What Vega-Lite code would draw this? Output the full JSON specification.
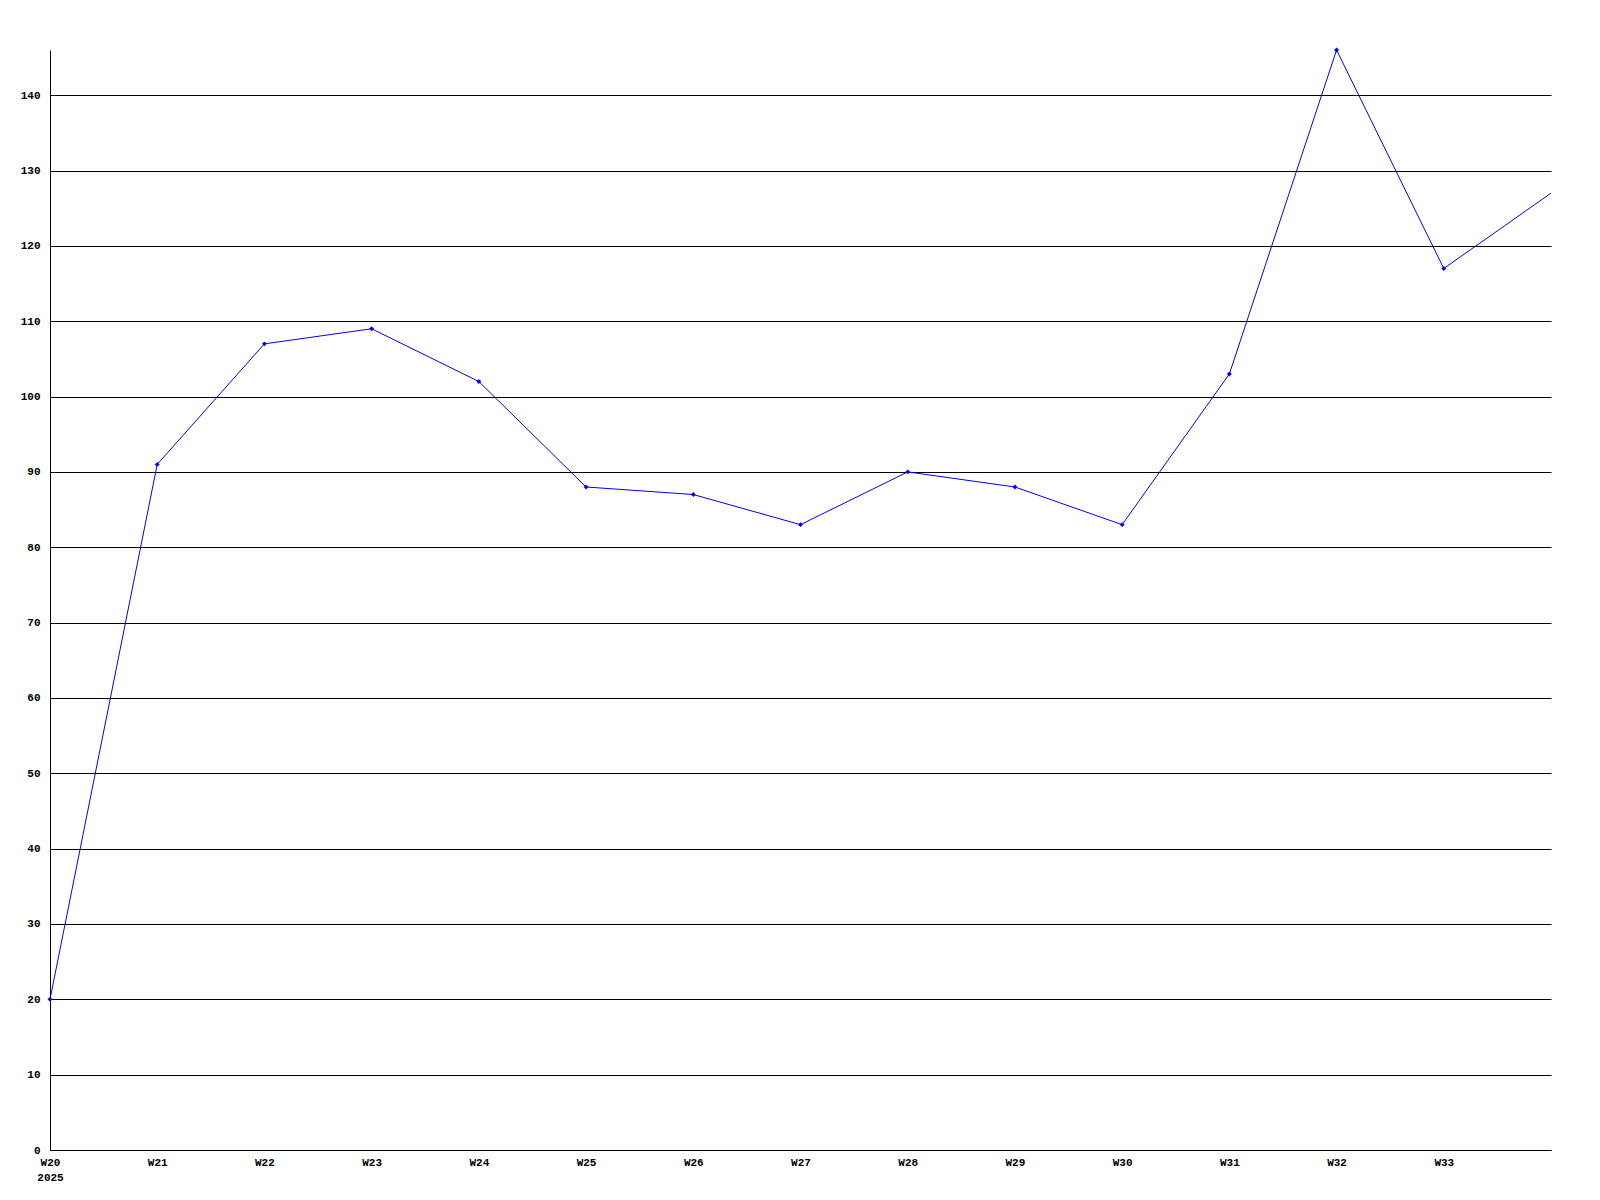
{
  "$schema": "https://vega.github.io/schema/vega-lite/v6.json",
  "width": 1501,
  "height": 1100,
  "autosize": {"type": "none"},
  "padding": {"left": 50, "top": 50, "right": 49, "bottom": 50},
  "background": "white",
  "config": {"view": {"stroke": null}},
  "data": {"values": [
    {"week": "W20", "value": 20},
    {"week": "W21", "value": 91},
    {"week": "W22", "value": 107},
    {"week": "W23", "value": 109},
    {"week": "W24", "value": 102},
    {"week": "W25", "value": 88},
    {"week": "W26", "value": 87},
    {"week": "W27", "value": 83},
    {"week": "W28", "value": 90},
    {"week": "W29", "value": 88},
    {"week": "W30", "value": 83},
    {"week": "W31", "value": 103},
    {"week": "W32", "value": 146},
    {"week": "W33", "value": 117},
    {"week": "W34", "value": 127}
  ]},
  "encoding": {
    "x": {"field": "week", "type": "ordinal", "sort": null,
      "scale": {"type": "point", "padding": 0},
      "axis": {"title": null, "labelAngle": 0, "ticks": false, "grid": false,
        "domainColor": "black", "domainWidth": 1,
        "labelFont": "Liberation Mono", "labelFontWeight": "bold", "labelFontSize": 11, "labelColor": "black",
        "labelPadding": 6, "labelLineHeight": 15,
        "labelExpr": "datum.value == 'W34' ? '' : (datum.value == 'W20' ? ['W20 ', '2025'] : datum.value)"}},
    "y": {"field": "value", "type": "quantitative",
      "scale": {"domain": [0, 146], "nice": false, "zero": true},
      "axis": {"title": null, "values": [0,10,20,30,40,50,60,70,80,90,100,110,120,130,140],
        "ticks": false, "grid": true, "gridColor": "black", "gridOpacity": 1, "gridWidth": 1,
        "domainColor": "black", "domainWidth": 1,
        "labelFont": "Liberation Mono", "labelFontWeight": "bold", "labelFontSize": 11, "labelColor": "black",
        "labelPadding": 10}}
  },
  "layer": [
    {"mark": {"type": "line", "color": "#0000ff", "strokeWidth": 1}},
    {"transform": [{"filter": "datum.week != 'W34'"}],
     "mark": {"type": "point", "shape": "diamond", "filled": true, "color": "#0000ff", "size": 24, "opacity": 1}}
  ]
}
